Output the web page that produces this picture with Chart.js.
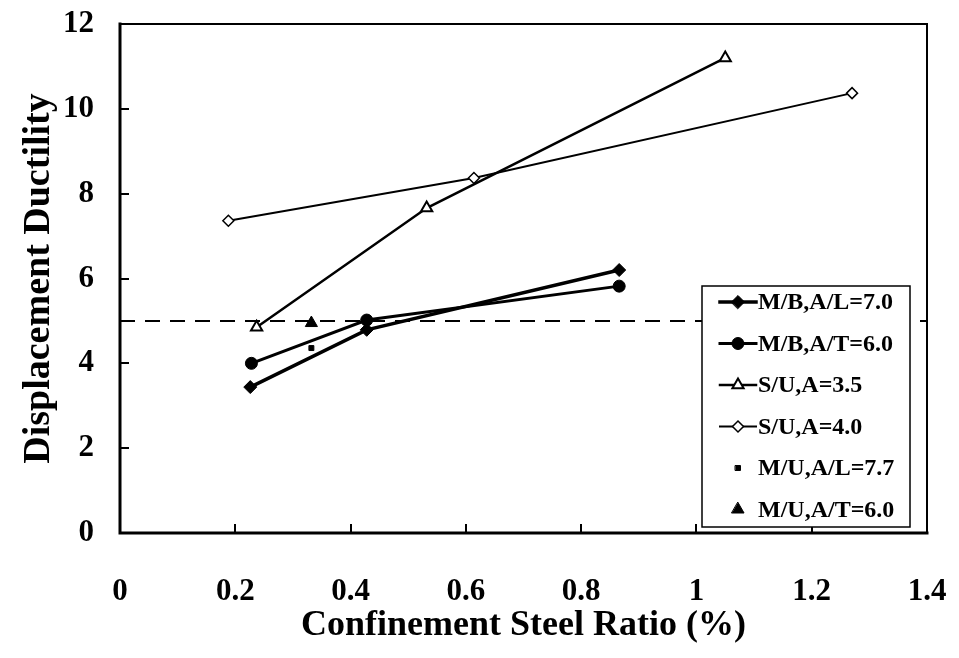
<!DOCTYPE html>
<html>
<head>
<meta charset="utf-8">
<script src="https://cdn.jsdelivr.net/npm/chart.js@4.4.0/dist/chart.umd.min.js"></script>
<style>
  html, body { margin: 0; padding: 0; background: #fff; }
</style>
</head>
<body>
<canvas id="ductilityChart" width="959" height="658"></canvas>
<script>
// values
const xTicks = [0, 0.2, 0.4, 0.6, 0.8, 1, 1.2, 1.4];
const yTicks = [0, 2, 4, 6, 8, 10, 12];

const mbAL_x = [0.226, 0.428, 0.866];
const mbAL_y = [3.44, 4.79, 6.2];
const mbAT_x = [0.228, 0.428, 0.866];
const mbAT_y = [4.0, 5.02, 5.82];
const su35_x = [0.237, 0.532, 1.05];
const su35_y = [4.85, 7.66, 11.2];
const su40_x = [0.188, 0.614, 1.27];
const su40_y = [7.36, 8.37, 10.37];
const muAL_x = [0.332];
const muAL_y = [4.36];
const muAT_x = [0.332];
const muAT_y = [4.95];
const limit_x = [0, 1.4];
const limit_y = [5, 5];

const seriesNames = ["M/B,A/L=7.0", "M/B,A/T=6.0", "S/U,A=3.5", "S/U,A=4.0", "M/U,A/L=7.7", "M/U,A/T=6.0"];

const serif = "'Liberation Serif', 'Times New Roman', serif";

function pts(xs, ys) {
    return xs.map((v, i) => ({ x: v, y: ys[i] }));
}

// keep label overhang from shrinking the plot area
function noPadding(axis) {
    axis.paddingLeft = 0;
    axis.paddingRight = 0;
    axis.paddingTop = 0;
    axis.paddingBottom = 0;
}

const frameAndLegend = {
    id: 'frameAndLegend',
    afterDatasetsDraw(chart) {
        const ctx = chart.ctx;
        const a = chart.chartArea;
        const x = chart.scales.x, y = chart.scales.y;
        ctx.save();
        ctx.strokeStyle = '#000';
        ctx.lineCap = 'square';

        // plot frame
        ctx.lineWidth = 2;
        ctx.strokeRect(a.left, a.top, a.right - a.left, a.bottom - a.top);
        ctx.lineWidth = 3;
        ctx.beginPath();
        ctx.moveTo(a.left, a.top);
        ctx.lineTo(a.left, a.bottom);
        ctx.lineTo(a.right, a.bottom);
        ctx.stroke();

        // inward tick marks
        ctx.lineWidth = 2;
        ctx.beginPath();
        yTicks.slice(1, -1).forEach(v => {
            const py = Math.round(y.getPixelForValue(v));
            ctx.moveTo(a.left, py);
            ctx.lineTo(a.left + 8, py);
        });
        xTicks.slice(1, -1).forEach(v => {
            const px = Math.round(x.getPixelForValue(v));
            ctx.moveTo(px, a.bottom);
            ctx.lineTo(px, a.bottom - 8);
        });
        ctx.stroke();

        // legend box
        const bx = a.right - 225, by = a.top + 262, bw = 208, bh = 241;
        ctx.fillStyle = '#fff';
        ctx.fillRect(bx, by, bw, bh);
        ctx.lineWidth = 1.5;
        ctx.strokeRect(bx, by, bw, bh);

        ctx.font = "bold 24px " + serif;
        ctx.textBaseline = 'middle';
        ctx.textAlign = 'left';
        const dsList = chart.data.datasets.filter(d => d.label);
        dsList.forEach((ds, i) => {
            const cy = by + 16 + i * 41.5;
            ctx.strokeStyle = '#000';
            if (ds.showLine !== false) {
                ctx.lineWidth = ds.borderWidth;
                ctx.beginPath();
                ctx.moveTo(bx + 18, cy);
                ctx.lineTo(bx + 54, cy);
                ctx.stroke();
            }
            ctx.fillStyle = ds.pointBackgroundColor;
            ctx.lineWidth = ds.pointBorderWidth;
            Chart.helpers.drawPoint(ctx, {
                pointStyle: ds.pointStyle,
                radius: ds.pointRadius,
                rotation: 0,
                borderWidth: ds.pointBorderWidth
            }, bx + 36, cy);
            ctx.fillStyle = '#000';
            ctx.fillText(ds.label, bx + 56, cy + 1);
        });
        ctx.restore();
    }
};

new Chart(document.getElementById('ductilityChart'), {
    type: 'scatter',
    data: {
        datasets: [{
            label: seriesNames[0],
            data: pts(mbAL_x, mbAL_y),
            showLine: true,
            borderColor: '#000',
            borderWidth: 3.5,
            pointStyle: 'rectRot',
            pointRadius: 6.5,
            pointBackgroundColor: '#000',
            pointBorderColor: '#000',
            pointBorderWidth: 1
        }, {
            label: seriesNames[1],
            data: pts(mbAT_x, mbAT_y),
            showLine: true,
            borderColor: '#000',
            borderWidth: 3,
            pointStyle: 'circle',
            pointRadius: 6,
            pointBackgroundColor: '#000',
            pointBorderColor: '#000',
            pointBorderWidth: 1
        }, {
            label: seriesNames[2],
            data: pts(su35_x, su35_y),
            showLine: true,
            borderColor: '#000',
            borderWidth: 2.5,
            pointStyle: 'triangle',
            pointRadius: 6.5,
            pointBackgroundColor: '#fff',
            pointBorderColor: '#000',
            pointBorderWidth: 2
        }, {
            label: seriesNames[3],
            data: pts(su40_x, su40_y),
            showLine: true,
            borderColor: '#000',
            borderWidth: 2,
            pointStyle: 'rectRot',
            pointRadius: 5.5,
            pointBackgroundColor: '#fff',
            pointBorderColor: '#000',
            pointBorderWidth: 1.5
        }, {
            label: seriesNames[4],
            data: pts(muAL_x, muAL_y),
            showLine: false,
            pointStyle: 'rect',
            pointRadius: 3.5,
            pointBackgroundColor: '#000',
            pointBorderColor: '#000',
            pointBorderWidth: 1
        }, {
            label: seriesNames[5],
            data: pts(muAT_x, muAT_y),
            showLine: false,
            pointStyle: 'triangle',
            pointRadius: 7,
            pointBackgroundColor: '#000',
            pointBorderColor: '#000',
            pointBorderWidth: 1
        }, {
            label: '',
            data: pts(limit_x, limit_y),
            showLine: true,
            borderColor: '#000',
            borderWidth: 2,
            borderDash: [15, 10],
            pointRadius: 0
        }]
    },
    options: {
        responsive: false,
        animation: false,
        layout: { padding: { top: 24, right: 32, left: 0, bottom: 0 } },
        plugins: {
            legend: { display: false },
            tooltip: { enabled: false }
        },
        scales: {
            x: {
                type: 'linear',
                min: 0,
                max: 1.4,
                afterBuildTicks: axis => { axis.ticks = xTicks.map(v => ({ value: v })); },
                afterFit: axis => { axis.height = 125; noPadding(axis); },
                grid: { display: false, drawTicks: false },
                border: { display: false },
                ticks: {
                    color: '#000',
                    padding: 40,
                    maxRotation: 0,
                    font: { family: serif, weight: 'bold', size: 31 },
                    callback: v => String(+Number(v).toFixed(1))
                },
                title: {
                    display: true,
                    text: 'Confinement Steel Ratio (%)',
                    color: '#000',
                    padding: { top: 0, bottom: 11 },
                    font: { family: serif, weight: 'bold', size: 36 }
                }
            },
            y: {
                type: 'linear',
                min: 0,
                max: 12,
                afterBuildTicks: axis => { axis.ticks = yTicks.map(v => ({ value: v })); },
                afterFit: axis => { axis.width = 120; noPadding(axis); },
                grid: { display: false, drawTicks: false },
                border: { display: false },
                ticks: {
                    color: '#000',
                    padding: 26,
                    font: { family: serif, weight: 'bold', size: 31 }
                },
                title: {
                    display: true,
                    text: 'Displacement Ductility',
                    color: '#000',
                    padding: { top: 16, bottom: 0 },
                    font: { family: serif, weight: 'bold', size: 38 }
                }
            }
        }
    },
    plugins: [frameAndLegend]
});
</script>
</body>
</html>
